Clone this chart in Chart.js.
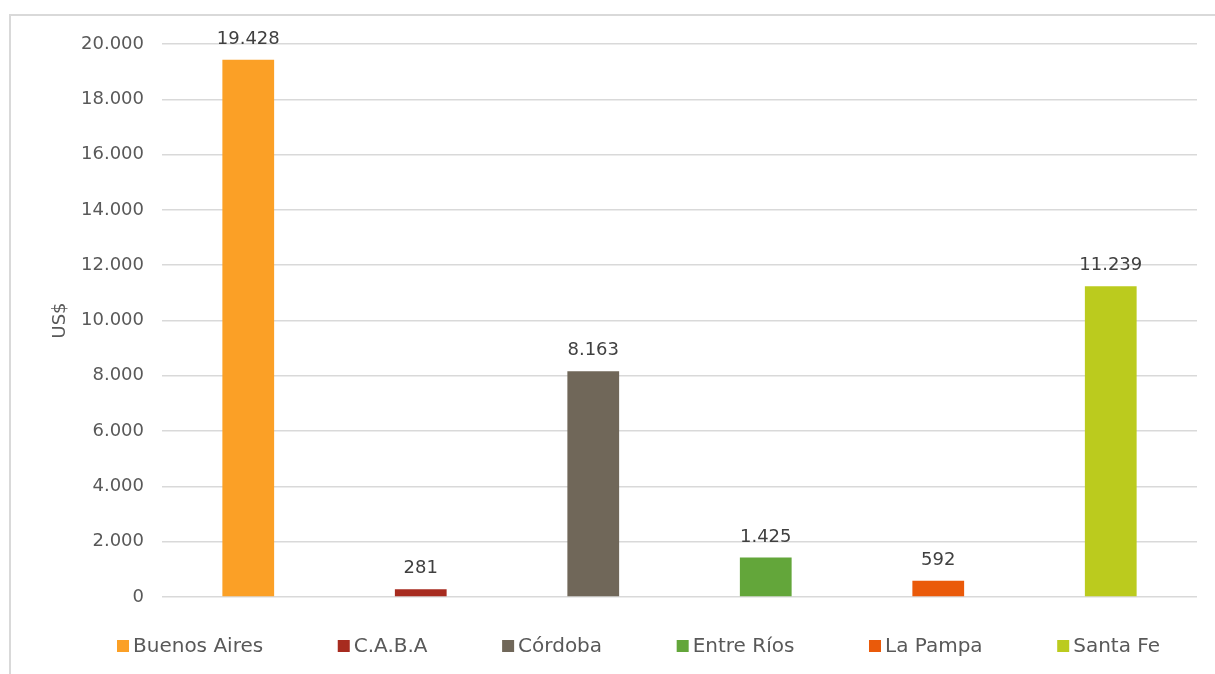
<!DOCTYPE html>
<html>
<head>
<meta charset="utf-8">
<script src="https://cdn.jsdelivr.net/npm/chart.js@4/dist/chart.umd.min.js"></script>
<style>
  html, body { margin: 0; padding: 0; background: #fff; }
  #frame { position: absolute; left: 9px; top: 14px; width: 1220px; height: 680px; border: 2px solid #d9d9d9; box-sizing: border-box; }
  #wrap { position: absolute; left: 0; top: 0; width: 1215px; height: 674px; }
</style>
</head>
<body>
<div id="frame"></div>
<div id="wrap"><canvas id="chart"></canvas></div>
<script>
// Datos: exportaciones por provincia (US$)
const provincias = ['Buenos Aires', 'C.A.B.A', 'Córdoba', 'Entre Ríos', 'La Pampa', 'Santa Fe'];
const valores = [19428, 281, 8163, 1425, 592, 11239];
const colores = ['#FBA026', '#A72B1F', '#706759', '#63A63A', '#EA5A0A', '#BBCB1E'];
const yTicks = [0, 2000, 4000, 6000, 8000, 10000, 12000, 14000, 16000, 18000, 20000];

const FONT = "'Century Gothic', 'DejaVu Sans', sans-serif";
const fmt = (v) => new Intl.NumberFormat('de-DE').format(v);

Chart.defaults.font.family = FONT;
Chart.defaults.color = '#595959';

// Etiquetas de valor encima de cada barra
const etiquetas = {
    id: 'etiquetas',
    afterDatasetsDraw(chart) {
        const ctx = chart.ctx;
        const meta = chart.getDatasetMeta(0);
        ctx.save();
        ctx.font = '18px ' + FONT;
        ctx.fillStyle = '#404040';
        ctx.textAlign = 'center';
        ctx.textBaseline = 'alphabetic';
        meta.data.forEach((bar, i) => {
            ctx.fillText(fmt(valores[i]), bar.x, bar.y - 16);
        });
        ctx.restore();
    }
};

// Leyenda inferior repartida a lo ancho (como en Excel)
const leyenda = {
    id: 'leyenda',
    afterDraw(chart) {
        const ctx = chart.ctx;
        const caja = 12, sep = 4;
        const izq = 117, der = 1160, yc = 646;
        ctx.save();
        ctx.font = '20px ' + FONT;
        const anchos = provincias.map(p => caja + sep + ctx.measureText(p).width);
        const total = anchos.reduce((a, b) => a + b, 0);
        const hueco = (der - izq - total) / (provincias.length - 1);
        let x = izq;
        ctx.textBaseline = 'middle';
        provincias.forEach((p, i) => {
            ctx.fillStyle = colores[i];
            ctx.fillRect(x, yc - caja / 2, caja, caja);
            ctx.fillStyle = '#595959';
            ctx.fillText(p, x + caja + sep, yc + 1);
            x += anchos[i] + hueco;
        });
        ctx.restore();
    }
};

new Chart(document.getElementById('chart'), {
    type: 'bar',
    data: {
        labels: provincias,
        datasets: [{
            data: valores,
            backgroundColor: colores,
            barPercentage: 0.6,
            categoryPercentage: 0.5
        }]
    },
    options: {
        responsive: true,
        maintainAspectRatio: false,
        animation: false,
        layout: { padding: { left: 50, right: 18, top: 44, bottom: 77 } },
        plugins: {
            tooltip: { enabled: false },
            legend: { display: false }
        },
        scales: {
            x: {
                grid: { display: false },
                border: { display: false },
                ticks: { display: false },
                afterFit: (s) => { s.height = 0; }
            },
            y: {
                min: 0,
                max: 20000,
                afterBuildTicks: (s) => { s.ticks = yTicks.map(v => ({ value: v })); },
                afterFit: (s) => { s.width = 112; },
                grid: { color: '#d9d9d9', lineWidth: 1.5, drawTicks: false },
                border: { display: false },
                ticks: {
                    padding: 18,
                    color: '#595959',
                    font: { size: 18 },
                    callback: (v) => fmt(v)
                },
                title: {
                    display: true,
                    text: 'US$',
                    color: '#595959',
                    font: { size: 18 },
                    padding: 0
                }
            }
        }
    },
    plugins: [etiquetas, leyenda]
});
</script>
</body>
</html>
